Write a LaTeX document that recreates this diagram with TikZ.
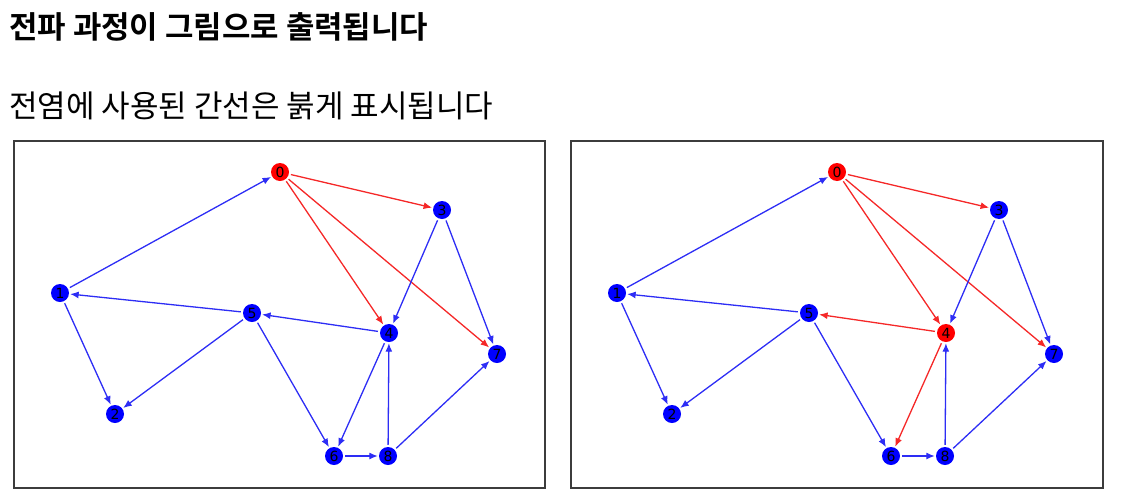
\documentclass[tikz,border=0pt]{standalone}
\usepackage{fontspec}
\newfontfamily\kr{Noto Sans CJK KR}
\newfontfamily\krb{Noto Sans CJK KR Bold}
\newfontfamily\lbl{DejaVu Sans}
\usetikzlibrary{arrows.meta}
\definecolor{nb}{RGB}{0,0,255}
\definecolor{nr}{RGB}{255,0,0}
\definecolor{eb}{RGB}{45,45,245}
\definecolor{er}{RGB}{245,40,40}
\definecolor{frame}{RGB}{60,60,60}
\tikzset{
  vtx/.style={circle,inner sep=0pt,minimum size=18pt,font=\lbl\fontsize{14}{14}\selectfont,text=black},
  bv/.style={vtx,fill=nb},
  rv/.style={vtx,fill=nr},
  edge/.style={-{Latex[length=8.5pt,width=7pt]},line width=1.3pt,shorten >=1pt,shorten <=2pt},
  be/.style={edge,draw=eb},
  re/.style={edge,draw=er},
  panel/.style={draw=frame,line width=1.2pt}
}
\begin{document}
\begin{tikzpicture}[x=1pt,y=-1pt]
\useasboundingbox (0,0) rectangle (1142,498);
\node[anchor=west,inner sep=0pt] (t1) at (9,27) {\krb\fontsize{30.9}{30.9}\selectfont 전파 과정이 그림으로 출력됩니다};
\node[anchor=west,inner sep=0pt] (t2) at (9,106) {\kr\fontsize{31}{31}\selectfont 전염에 사용된 간선은 붉게 표시됩니다};
\draw[panel] (14,141) rectangle (545,488);
\draw[panel] (571,141) rectangle (1103,488);
% left graph
\begin{scope}
\node[rv] (a0) at (280,172) {0};
\node[bv] (a1) at (60,293) {1};
\node[bv] (a2) at (115,414) {2};
\node[bv] (a3) at (442,210) {3};
\node[bv] (a4) at (389,333) {4};
\node[bv] (a5) at (252,313) {5};
\node[bv] (a6) at (334,456) {6};
\node[bv] (a7) at (497,354) {7};
\node[bv] (a8) at (388,456) {8};
\draw[re] (a0) -- (a3);
\draw[re] (a0) -- (a4);
\draw[re] (a0) -- (a7);
\draw[be] (a1) -- (a0);
\draw[be] (a1) -- (a2);
\draw[be] (a3) -- (a4);
\draw[be] (a3) -- (a7);
\draw[be] (a4) -- (a5);
\draw[be] (a4) -- (a6);
\draw[be] (a5) -- (a1);
\draw[be] (a5) -- (a2);
\draw[be] (a5) -- (a6);
\draw[be] (a6) -- (a8);
\draw[be] (a8) -- (a4);
\draw[be] (a8) -- (a7);
\end{scope}
% right graph
\begin{scope}
\node[rv] (b0) at (837,172) {0};
\node[bv] (b1) at (617,293) {1};
\node[bv] (b2) at (672,414) {2};
\node[bv] (b3) at (999,210) {3};
\node[rv] (b4) at (946,333) {4};
\node[bv] (b5) at (809,313) {5};
\node[bv] (b6) at (891,456) {6};
\node[bv] (b7) at (1054,354) {7};
\node[bv] (b8) at (945,456) {8};
\draw[re] (b0) -- (b3);
\draw[re] (b0) -- (b4);
\draw[re] (b0) -- (b7);
\draw[be] (b1) -- (b0);
\draw[be] (b1) -- (b2);
\draw[be] (b3) -- (b4);
\draw[be] (b3) -- (b7);
\draw[re] (b4) -- (b5);
\draw[re] (b4) -- (b6);
\draw[be] (b5) -- (b1);
\draw[be] (b5) -- (b2);
\draw[be] (b5) -- (b6);
\draw[be] (b6) -- (b8);
\draw[be] (b8) -- (b4);
\draw[be] (b8) -- (b7);
\end{scope}
\end{tikzpicture}
\end{document}
